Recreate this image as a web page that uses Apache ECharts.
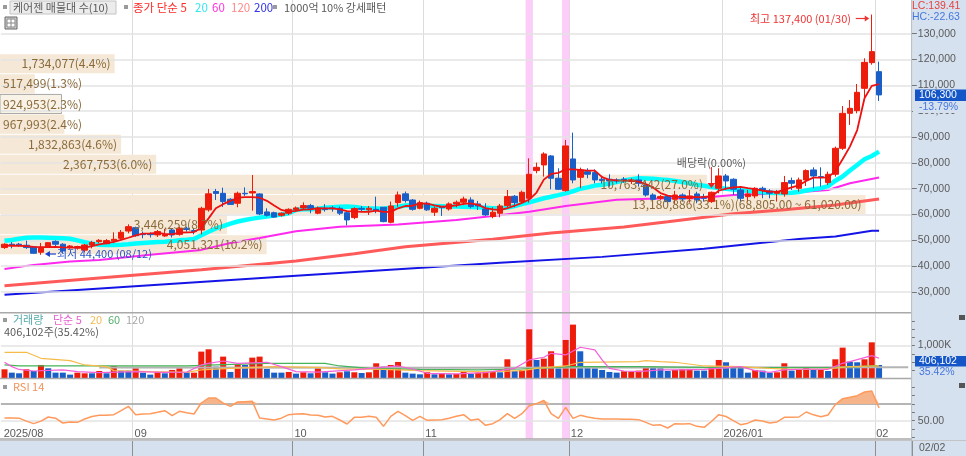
<!DOCTYPE html>
<html><head><meta charset="utf-8"><style>html,body{margin:0;padding:0;background:#fff}#c{width:966px;height:456px}</style>
<script src="https://cdn.jsdelivr.net/npm/echarts@6/dist/echarts.min.js"></script></head><body><div id="c"></div><script>
const monthIdx=[0,18,40,58,78,99,120];
const monthNames=['2025/08','09','10','11','12','2026/01','02'];
const highlightIdx=[72,77];
const yTicks=[30000,40000,50000,60000,70000,80000,90000,100000,110000,120000,130000];
const ohlc=[
[47200,48500,46700,48900],[48500,48000,46900,49300],[48500,48100,47500,49000],[48100,47200,46700,49900],[47500,45000,44900,47700],
[45400,47300,44400,49000],[47300,49100,47100,49300],[49600,48500,47600,50000],[48500,45900,44900,48900],[47300,47800,46700,48200],
[47000,47600,46400,47900],[46200,48200,45400,48600],[48200,49200,46900,49800],[49500,50000,48900,50500],[48700,49900,48500,50500],
[49800,50400,48900,53100],[50800,53100,50200,54000],[53600,55300,52700,56200],[54900,51800,51400,55300],[52500,52200,50800,53400],
[52500,52200,51100,53100],[52100,53400,51300,54000],[51700,52300,51300,54400],[54000,52100,51100,54700],[52300,54700,51800,55300],
[54700,54200,53400,55300],[53800,53400,52300,54700],[54000,62400,52300,63000],[61800,68000,61100,69900],[68900,68100,65600,69900],
[68200,65000,62900,70400],[65900,63900,63700,66300],[64350,68220,62800,68865],[68200,68000,67200,70500],[68350,68865,61500,75300],
[67960,60200,59800,68200],[61000,59700,59200,62400],[60700,59000,58800,61100],[59700,60500,59200,60800],[60500,62000,59800,62400],
[61900,62550,61100,63100],[62550,63450,61800,64700],[63450,62400,60500,64100],[60500,62400,60100,63100],[62400,61900,61100,64000],
[62550,62200,61100,63300],[62400,60500,59800,63100],[60700,57900,55800,61100],[58800,62300,58200,62800],[62400,62000,61100,63300],
[61800,62400,59800,63300],[62000,61600,60500,66900],[62800,57250,57000,62800],[57000,63300,56600,65000],[64600,67600,63000,68900],
[68000,65400,64600,68900],[65600,62000,61500,66000],[62400,64600,62000,65400],[64350,61800,61400,65000],[60900,62400,59450,63100],
[63050,62650,59450,63300],[62150,64100,61500,64700],[64100,64740,62800,65400],[64740,66000,63700,66900],[65640,63060,62400,66660],
[64090,63300,61770,65250],[62160,59840,59450,64350],[59200,60870,58550,62800],[60480,63300,58930,64090],[63450,66930,62800,69500],
[67060,64600,62800,67570],[65000,68600,64350,69250],[66280,75570,64600,81760],[76990,78280,75960,80090],[79180,83440,74670,84090],
[82670,74030,69770,83050],[74030,69770,69510,77900],[69250,86540,68870,88860],[81510,73380,72090,91700],[74410,77250,70160,78150],
[76600,75570,74030,77900],[76220,73380,72090,77500],[73640,73120,72000,75000],[73640,72990,70800,75570],[73380,72990,72000,74000],
[73640,73120,72300,74500],[72860,73380,71800,74000],[73380,72090,70800,75570],[71450,67570,66930,72650],[67570,65900,65000,68220],
[66280,66930,65640,67570],[66930,65000,64350,67500],[65900,67570,64100,69120],[67570,66030,65000,68200],[66150,67190,64600,69500],
[67960,65640,64350,68800],[66930,66280,65000,68000],[65000,68600,64500,68900],[70150,74930,68220,77890],[74930,72990,69500,75700],
[73640,69770,67570,74030],[69510,66280,65000,70540],[66930,67960,65000,69510],[67190,70150,66280,70540],[70150,69510,66280,70800],
[69120,68220,66280,69770],[68200,68800,65000,69500],[67960,72350,66930,74930],[73120,72090,69500,74280],[70150,73380,68870,74280],
[73380,76990,71060,77500],[77250,74930,70160,78280],[74670,74280,70800,78280],[72350,75570,71450,76600],[75570,85630,74670,86280],
[85630,99180,85000,102000],[99180,101100,94670,104340],[100200,107300,99180,110530],[108850,118900,104340,120460],[118780,123050,118000,137400],
[115300,106300,103950,119175]];
const ma5=[48000,47900,47900,47800,47500,47400,47400,47500,47300,47200,47200,47200,47800,48400,48900,49400,50200,51000,51900,52600,
52700,52900,52500,52300,53000,53100,53200,54800,58500,62400,64000,65250,66500,66700,66700,66500,65300,63450,61770,61100,
61400,61900,62000,62500,62400,62400,62000,61300,61200,61000,61000,61500,61000,61000,62400,63300,63400,64300,64200,63500,
63000,63200,63500,64100,64300,63700,62500,62000,61700,62500,63400,64500,65800,68500,73500,75700,76100,77500,77500,77300,
77000,77000,74500,73400,73200,73100,73100,72700,71800,70400,68300,67300,66900,66700,66800,66700,66800,67000,69200,70000,
70500,70700,70200,69800,69200,68900,68800,69500,70500,71300,73000,74300,74300,74400,76800,81400,86280,92700,105000,109800,110500];
const ma20=[49800,50100,50600,51000,51100,51100,51000,50900,50800,50600,50000,49300,48700,48300,48200,48200,48300,48500,48800,49000,
49200,49400,49500,49700,50000,50200,50500,52000,53300,54600,55500,56500,57300,57900,58400,58800,59200,59600,60000,60500,
61800,62000,62000,62200,62600,62800,63000,63100,62900,62500,62300,62300,62200,62600,63000,63500,63700,63600,63400,63300,
63200,63100,63100,63000,62900,62800,62600,62400,62400,62700,63300,64000,64700,65500,66300,66900,67500,68200,69000,70000,
70500,71200,71500,72000,72600,73200,73700,74000,73900,73800,73600,73400,73000,72600,72100,71500,71100,70600,70300,70000,
69700,69400,69200,68900,68600,68400,68300,68300,68400,68700,69300,69800,70200,71000,73100,74700,77000,79200,81400,82670,84350];
const ma60Pts=[[0,38900],[4,40500],[9,41800],[13,42400],[20,44400],[27,46300],[31,49000],[35,50900],[40,53500],[46,55300],[54,56100],[62,57900],[67,59450],[72,61100],[77,63300],[84,65700],[91,66300],[95,66300],[100,67570],[107,68200],[113,69500],[116,72090],[120,74300]];
const ma120Pts=[[0,32400],[13,35400],[27,38600],[40,42000],[48,44800],[55,47500],[67,50400],[75,52800],[85,55200],[91,57200],[100,60300],[107,61800],[114,63700],[120,66000]];
const ma200Pts=[[0,28900],[40,36300],[68,41300],[82,43600],[96,46700],[109,50500],[114,51500],[119,53700],[120,53700]];
const volK=[275,173,153,275,224,408,306,173,173,112,173,153,153,224,153,377,235,235,306,173,112,194,153,255,306,184,173,816,887,357,663,194,428,408,632,663,286,173,173,194,143,184,153,306,
184,143,184,214,184,163,184,459,357,408,500,173,143,122,184,122,133,122,133,204,133,173,204,194,184,581,224,255,1499,561,602,826,306,1173,1642,826,357,306,255,194,173,214,204,235,
336,357,306,224,255,275,275,235,235,357,561,490,336,336,173,255,235,173,184,459,235,255,336,255,275,224,581,938,510,490,581,1100,406.102];
const volDir='rbbrbrbbbbrrbrbrbbrbbrbrrbrrrbrbrbrrbbbrbrbr'+'bbrbrbrrbrrbbbrbrbrrbrrrbrbrrbrrbrrbbbbbbrrr'+'rbbbrrrbbrrbbbbrbbrrbrrbrbrrbbrrb';
const vMa5Pts=[[0,490],[1,357],[2,270],[4,224],[8,255],[10,204],[13,173],[18,204],[22,183],[25,190],[27,408],[28,459],[30,530],[32,459],[36,490],[38,357],[40,204],[43,188],[48,255],[54,377],[56,285],[58,153],[62,133],[66,173],[70,306],[72,561],[74,643],[75,765],[77,714],[79,949],[81,867],[82,561],[83,306],[85,224],[87,204],[90,255],[93,255],[96,275],[101,357],[103,235],[105,184],[107,255],[110,285],[113,275],[115,459],[116,510],[119,694],[120,612]];
const vMa20Pts=[[0,795],[3,795],[5,612],[9,540],[11,408],[14,357],[15,235],[20,204],[25,184],[27,255],[31,306],[37,357],[43,336],[46,290],[52,275],[57,235],[66,194],[71,235],[73,306],[77,377],[79,490],[87,510],[88,540],[90,510],[92,490],[96,377],[101,357],[105,306],[108,275],[112,275],[116,357],[120,377]];
const vMa60Pts=[[0,408],[2,377],[25,377],[29,408],[36,459],[44,459],[46,377],[50,306],[57,275],[65,255],[71,285],[78,357],[87,357],[96,336],[114,326],[120,387]];
const vMa120Pts=[[13,330],[60,325],[124,340]];
const rsi=[53.2,53.2,53,49.5,46.4,49.5,54.4,53,47.2,48.5,48,52,55,56.4,56.5,57.2,62,67.2,57.2,58,58.4,60,62,56,61.2,59.5,58,71.2,77.2,77.2,71,67.2,72.4,72.8,73.2,53.2,52,50.8,53,57.2,58,58.4,56.8,56.5,
54.4,55.2,50.8,46,54,54,55.2,54,43.2,55.2,61.2,56,50.4,55.2,50.4,50.8,51.2,53,55.2,57.2,50.4,52,44.4,46.4,51.2,58.4,52.8,58.4,68,70.4,74.4,58.4,52.8,66,52.8,56.4,54.4,52.8,52,52,52,51.8,51.8,51.2,
48,44.4,45,41.2,46.4,46,46.4,43.2,42,49,57.2,55,50,45.2,47,50.8,49.5,47.2,48.5,54,54,54.4,60.4,57,54.8,56.8,69.2,76.4,78,80,84.4,85.6,65.2];
const bandVols=[1734077,517499,924953,967993,1832863,2367753,10763442,13180886,3446259,4051321];
const bandTexts=['1,734,077(4.4%)','517,499(1.3%)','924,953(2.3%)','967,993(2.4%)','1,832,863(4.6%)','2,367,753(6.0%)','10,763,442(27.0%)','13,180,886(33.1%)(68,805.00 ~ 61,020.00)','3,446,259(8.7%)','4,051,321(10.2%)'];
const bandTop=122250, bandStep=7785;

const C={red:'#ee1c0a',blue:'#1a5fc8',grid:'#e3e3e3',panel:'#d6e1ef',sep:'#a9a9a9',txt:'#5a5a5a'};
const FK='"Noto Sans CJK KR","Noto Sans",sans-serif', FN='"Liberation Sans",sans-serif';
const FS=10.5;
const cats=Array.from({length:125},(_,i)=>String(i));
const L=0.86,W=911;
const isM=i=>monthIdx.includes(+i);

const chart=echarts.init(document.getElementById('c'),null,{renderer:'canvas'});
const catAxis=(g,extra)=>Object.assign({type:'category',gridIndex:g,data:cats,boundaryGap:true,axisLine:{show:false},axisTick:{show:false},axisLabel:{show:false},splitLine:{show:true,interval:i=>isM(i)&&i>0,lineStyle:{color:'#dcdcdc',width:1}}},extra||{});
const pink=(x,y)=>({type:'custom',xAxisIndex:x,yAxisIndex:y,z:3,silent:true,data:highlightIdx.map(i=>[i]),encode:{x:0},clip:false,
 renderItem:(p,api)=>{const c=p.coordSys,w=api.size([1,0])[0],cx=api.coord([api.value(0),0])[0];
  return {type:'rect',shape:{x:cx-w/2,y:c.y,width:w,height:c.height},style:{fill:'#fbcdf8'}};}});
const gridLines=(x,y,vals,color,width)=>({type:'line',xAxisIndex:x,yAxisIndex:y,z:1,silent:true,data:[],
 markLine:{silent:true,symbol:'none',animation:false,label:{show:false},lineStyle:{type:'solid',color,width},data:vals.map(v=>({yAxis:v}))}});
const line=(x,y,data,color,width,z)=>({type:'line',xAxisIndex:x,yAxisIndex:y,data,showSymbol:false,symbol:'none',smooth:false,z,silent:true,lineStyle:{color,width},animation:false});
const bandEdge=i=>bandTop-i*bandStep;
const ctx=document.createElement('canvas').getContext('2d');ctx.font='12px '+FK;
const yAx=(g,min,max,ticks,tlen,labels,fmt,margin)=>({type:'value',gridIndex:g,position:'right',min,max,z:5,splitLine:{show:false},axisLine:{show:false,onZero:false},
 axisTick:{show:true,length:tlen,lineStyle:{color:'#777'},customValues:ticks},
 axisLabel:{margin,color:C.txt,fontFamily:FN,fontSize:FS,customValues:labels,formatter:fmt}});

const option={animation:false,backgroundColor:'#fff',
 grid:[{left:L,width:W,top:0,height:312},{left:L,width:W,top:313,height:65.3},{left:L,width:W,top:379,height:60},{left:L-3,width:W,top:441,height:15},{left:L,width:W,top:441,height:15}],
 xAxis:[catAxis(0),{type:'value',gridIndex:0,min:0,max:W/65.6*1e6,show:false},catAxis(1),catAxis(2),
  catAxis(3,{splitLine:{show:false},axisLabel:{show:true,inside:true,interval:i=>isM(i),align:'left',verticalAlign:'middle',margin:-7.5,color:C.txt,fontFamily:FN,fontSize:FS+0.5,formatter:(v,i)=>{const k=monthIdx.indexOf(+v);return k>=0?monthNames[k]:'';}},position:'top'}),
  catAxis(4,{splitLine:{show:true,interval:i=>isM(i)&&i>0,lineStyle:{color:'#8f8f8f',width:1}}})],
 yAxis:[
  yAx(0,22260,143040,yTicks,5,yTicks,v=>v.toLocaleString('en-US'),6),
  yAx(1,0,1997,[250,500,750,1000,1250,1500,1750],3,[1000],()=>'1,000K',6),
  yAx(2,28,100,[30,40,50,60,70,80,90],3,[50],()=>'50.00',6),
  {type:'value',gridIndex:3,show:false},{type:'value',gridIndex:4,show:false}],
 series:[
  gridLines(0,0,yTicks,C.grid,1.5),
  {type:'custom',xAxisIndex:1,yAxisIndex:0,z:2,silent:true,clip:false,data:bandVols.map((v,i)=>[v,bandEdge(i+1),bandEdge(i),i]),encode:{x:0,y:[1,2]},
   renderItem:(p,api)=>{const a=api.coord([0,api.value(2)]),b=api.coord([api.value(0),api.value(1)]);const cur=api.value(3)===2;
    return {type:'rect',shape:{x:0,y:a[1]+0.5,width:b[0],height:b[1]-a[1]-1},style:cur?{fill:'#f9f2e6',stroke:'#a8a8a8',lineWidth:1}:{fill:'#f5e8d6'}};}},
  pink(0,0),
  line(0,0,ma200Pts,'#1414e6',2,4),line(0,0,ma120Pts,'#ff5a5a',3,4),line(0,0,ma60Pts,'#ff28ee',2,4),line(0,0,ma20,'#00ffff',4.5,5),
  {type:'candlestick',xAxisIndex:0,yAxisIndex:0,z:6,silent:true,data:ohlc,barWidth:6,itemStyle:{color:C.red,color0:C.blue,borderColor:C.red,borderColor0:C.blue,borderWidth:1}},
  line(0,0,ma5,'#ee1111',1.8,7),
  {type:'custom',xAxisIndex:1,yAxisIndex:0,z:9,silent:true,clip:false,data:bandVols.map((v,i)=>[v,bandEdge(i+1),bandEdge(i),i]),encode:{x:0,y:[1,2]},
   renderItem:(p,api)=>{const i=api.value(3),t=bandTexts[i],b=api.coord([api.value(0),(api.value(1)+api.value(2))/2]),w=ctx.measureText(t).width;
    const right=Math.max(b[0]-4,3+w);
    return {type:'text',style:{text:t,x:right,y:b[1],align:'right',verticalAlign:'middle',font:'12px '+FK,fill:'#8a6a3a'}};}},
  gridLines(2,1,[1000],C.grid,1.5),
  pink(2,1),
  {type:'bar',xAxisIndex:2,yAxisIndex:1,z:5,silent:true,barWidth:6,data:volK.map((v,i)=>({value:v,itemStyle:{color:volDir[i]==='r'?C.red:C.blue}}))},
  line(2,1,vMa120Pts,'#b4b4b4',2,6),line(2,1,vMa60Pts,'#45b45a',1.2,6),line(2,1,vMa20Pts,'#f7bb4a',1.2,6),line(2,1,vMa5Pts,'#f45fd8',1.2,7),
  gridLines(3,2,[50],C.grid,1.5),gridLines(3,2,[70],'#9c9c9c',1.5),
  pink(3,2),
  {type:'line',xAxisIndex:3,yAxisIndex:2,z:5,silent:true,showSymbol:false,data:rsi.map(v=>Math.max(v,70)),lineStyle:{opacity:0,width:0},areaStyle:{origin:70,color:'#f6b48a',opacity:1}},
  line(3,2,rsi,'#ff9a5c',1.5,6)
 ]};
chart.setOption(option);

const lastClose=ohlc[ohlc.length-1][1];
const px=(i)=>chart.convertToPixel({xAxisIndex:0},i), py=(v)=>chart.convertToPixel({yAxisIndex:0},v);
const NUM='10.5px '+FN;
const T=(text,x,y,fill,o)=>Object.assign({type:'text',z:100,silent:true,style:Object.assign({text,x,y,fill,font:'11px '+FK,verticalAlign:'middle',align:'left'},o||{})},{});
const R=(x,y,w,h,fill,stroke)=>({type:'rect',z:100,silent:true,shape:{x,y,width:w,height:h},style:stroke?{fill,stroke,lineWidth:1}:{fill}});
const Ln=(x1,y1,x2,y2,stroke,w,z)=>({type:'line',z:z||50,silent:true,shape:{x1,y1,x2,y2},style:{stroke,lineWidth:w||1}});
const Tri=(pts,fill)=>({type:'polygon',z:100,silent:true,shape:{points:pts},style:{fill}});
const sq=(x,y)=>R(x,y,4,4,'#9a9a9a');
const yClose=py(lastClose), xHi=px(119), xLo=px(5), xDiv=px(97), yLo=py(44400);
const g=[
 {type:'rect',z:-1,silent:true,shape:{x:912,y:0,width:54,height:456},style:{fill:C.panel}},
 {type:'rect',z:-1,silent:true,shape:{x:0,y:441,width:912,height:15},style:{fill:C.panel}},
 Ln(0,312.7,912,312.7,C.sep,1.5),Ln(0,378.6,912,378.6,C.sep,1.5),Ln(0,439,912,439,C.sep,1.5),Ln(0,440.5,966,440.5,'#c4c4c4',1),
 Ln(911.5,0,911.5,456,'#b8c0cc',1),
 sq(3,5),R(10,1,106,13,'#ececec','#c4c4c4'),T('케어젠 매물대 수(10)',13,8,C.txt),
 sq(124,5),T('종가 단순 5',133,8,'#ff2a2a',{font:'11.5px '+FK}),T('20',195,8,'#30e8f0',{font:'11.5px '+FK}),T('60',212,8,'#ff30e0',{font:'11.5px '+FK}),T('120',231,8,'#ff8a8a',{font:'11.5px '+FK}),T('200',254,8,'#3030e8',{font:'11.5px '+FK}),
 sq(273,5),T('1000억 10% 강세패턴',284,8,C.txt),
 R(5,17,12,12,'#d0d0d0','#666'),R(7,19,8,8,'#fff','#888'),Ln(11,19,11,27,'#888',1,101),Ln(7,23,15,23,'#888',1,101),
 T('LC:139.41',912,6.5,'#e64040',{font:NUM}),T('HC:-22.63',912,17.5,'#4477dd',{font:NUM}),
 T('최고 137,400 (01/30)',851,18.5,'#ee3333',{align:'right'}),Ln(xHi-16,18.5,xHi-6,18.5,'#ee3333',1.2,100),Tri([[xHi-7,15.5],[xHi-7,21.5],[xHi-2.5,18.5]],'#ee3333'),
 Tri([[xLo+4,yLo-0.8],[xLo+9,yLo-3.8],[xLo+9,yLo+2.2]],'#1a3fd0'),Ln(xLo+8,yLo-0.8,xLo+15,yLo-0.8,'#1a3fd0',1.2,100),T('최저 44,400 (08/12)',57,yLo-0.8,'#2a55c8'),
 T('배당락(0.00%)',xDiv,163,C.txt,{align:'center'}),Ln(xDiv,167,xDiv,184,'#ee2222',1,100),Tri([[xDiv-4,183],[xDiv+4,183],[xDiv,188]],'#ee2222'),
 R(915,89.5,51,11.5,'#1456c8'),T('106,300',919,95.5,'#fff',{font:NUM}),
 R(913,101,53,12,C.panel),T('-13.79%',919,107,'#4477dd',{font:NUM}),
 R(915,356,51,10.5,'#1456c8'),T('406,102',919,361.5,'#fff',{font:NUM}),T('35.42%',919,372,'#4477dd',{font:NUM}),
 sq(3,318),T('거래량',13,320,'#55aaaa'),T('단순 5',53,320,'#e860d0'),T('20',90,320,'#f2bb55'),T('60',108,320,'#55b070'),T('120',126,320,'#a8a8a8'),
 T('406,102주(35.42%)',4,332,C.txt),
 sq(3,385),T('RSI 14',13,387,'#f0935a'),
 R(959,315,6,5,'#555'),R(959,383,6,5,'#555'),
 T('02/02',919,448,C.txt,{font:NUM})
];
chart.setOption({graphic:g});
</script></body></html>
